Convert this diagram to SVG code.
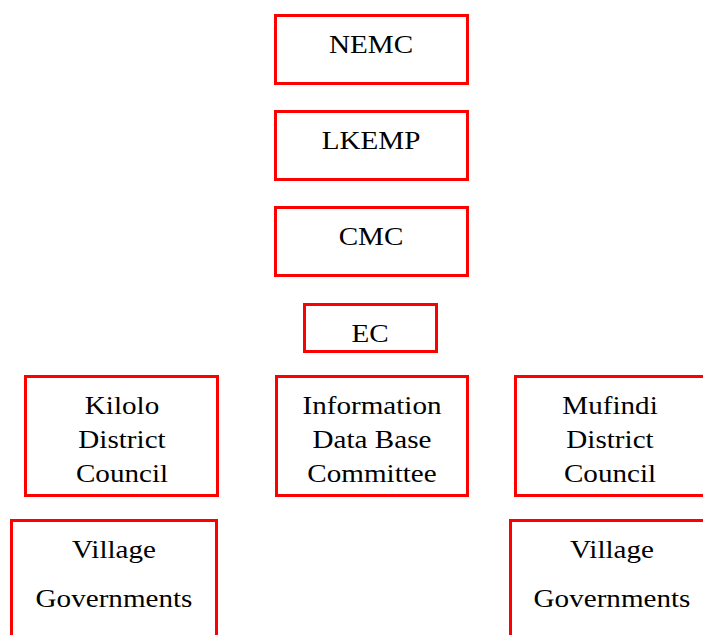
<svg xmlns="http://www.w3.org/2000/svg" width="703" height="635" viewBox="0 0 703 635">
  <style>
    .box { fill: #ffffff; stroke: #ff0000; stroke-width: 3; }
    .lbl { font-family: "Liberation Serif", "Times New Roman", serif; font-size: 26px; fill: #000000; text-anchor: middle; }
  </style>
  <rect x="0" y="0" width="703" height="635" fill="#ffffff"/>
  <g id="connectors"/>
  <g id="nemc">
    <rect class="box" x="275.5" y="15.5" width="192" height="68"/>
    <text class="lbl" transform="translate(371 53) scale(1.12 1)">NEMC</text>
  </g>
  <g id="lkemp">
    <rect class="box" x="275.5" y="111.5" width="192" height="68"/>
    <text class="lbl" transform="translate(371 149) scale(1.12 1)">LKEMP</text>
  </g>
  <g id="cmc">
    <rect class="box" x="275.5" y="207.5" width="192" height="68"/>
    <text class="lbl" transform="translate(371 245) scale(1.12 1)">CMC</text>
  </g>
  <g id="ec">
    <rect class="box" x="304.5" y="304.5" width="132" height="47"/>
    <text class="lbl" transform="translate(370 342) scale(1.12 1)">EC</text>
  </g>
  <g id="kilolo">
    <rect class="box" x="25.5" y="376.5" width="192" height="119"/>
    <text class="lbl" transform="translate(122 414) scale(1.12 1)">Kilolo</text>
    <text class="lbl" transform="translate(122 448) scale(1.12 1)">District</text>
    <text class="lbl" transform="translate(122 482) scale(1.12 1)">Council</text>
  </g>
  <g id="infodb">
    <rect class="box" x="276.5" y="376.5" width="191" height="119"/>
    <text class="lbl" transform="translate(372 414) scale(1.12 1)">Information</text>
    <text class="lbl" transform="translate(372 448) scale(1.12 1)">Data Base</text>
    <text class="lbl" transform="translate(372 482) scale(1.12 1)">Committee</text>
  </g>
  <g id="mufindi">
    <rect class="box" x="515.5" y="376.5" width="200" height="119"/>
    <text class="lbl" transform="translate(610 414) scale(1.12 1)">Mufindi</text>
    <text class="lbl" transform="translate(610 448) scale(1.12 1)">District</text>
    <text class="lbl" transform="translate(610 482) scale(1.12 1)">Council</text>
  </g>
  <g id="village-left">
    <rect class="box" x="11.5" y="520.5" width="205" height="130"/>
    <text class="lbl" transform="translate(114 558) scale(1.12 1)">Village</text>
    <text class="lbl" transform="translate(114 607) scale(1.12 1)">Governments</text>
  </g>
  <g id="village-right">
    <rect class="box" x="510.5" y="520.5" width="205" height="130"/>
    <text class="lbl" transform="translate(612 558) scale(1.12 1)">Village</text>
    <text class="lbl" transform="translate(612 607) scale(1.12 1)">Governments</text>
  </g>
</svg>
